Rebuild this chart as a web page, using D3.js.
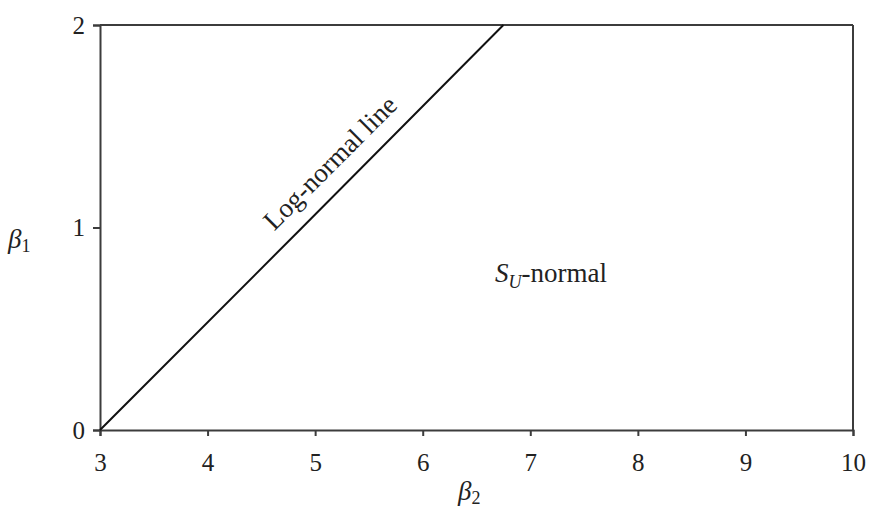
<!DOCTYPE html>
<html>
<head>
<meta charset="utf-8">
<script src="https://cdn.jsdelivr.net/npm/d3@7"></script>
<style>
  html, body { margin: 0; padding: 0; background: #fff; }
  svg text { font-family: "Liberation Serif", "Times New Roman", serif; fill: #222; }
</style>
</head>
<body>
<svg id="chart" width="870" height="508"></svg>
<script>
// Pearson plane: beta2 (kurtosis) on x, beta1 (squared skewness) on y
const beta2Ticks = [3, 4, 5, 6, 7, 8, 9, 10];
const beta1Ticks = [0, 1, 2];

// Log-normal line points (beta2, beta1)
const lognormBeta2 = [3, 4.88, 6.75];
const lognormBeta1 = [0, 1, 2];

const svg = d3.select("#chart");
const margin = { left: 100, right: 17, top: 25, bottom: 78 };
const W = 870, H = 508;

const x = d3.scaleLinear().domain([3, 10]).range([margin.left, W - margin.right]);
const y = d3.scaleLinear().domain([0, 2]).range([H - margin.bottom, margin.top]);

const axisColor = "#3c3c3c";
const tickFont = "25px";
const labelFont = "27px";

// bottom axis
const gx = svg.append("g")
  .attr("transform", `translate(0,${y(0)})`)
  .call(d3.axisBottom(x).tickValues(beta2Ticks).tickSize(6).tickPadding(17).tickFormat(d3.format("d")));
gx.selectAll("text").style("font-size", tickFont);

// left axis
const gy = svg.append("g")
  .attr("transform", `translate(${x(3)},0)`)
  .call(d3.axisLeft(y).tickValues(beta1Ticks).tickSize(7).tickPadding(8).tickFormat(d3.format("d")));
gy.selectAll("text").style("font-size", tickFont);

svg.selectAll(".domain, .tick line").attr("stroke", axisColor).attr("stroke-width", 2);

// top and right frame edges
svg.append("line")
  .attr("x1", x(3)).attr("x2", x(10)).attr("y1", y(2)).attr("y2", y(2))
  .attr("stroke", axisColor).attr("stroke-width", 2);
svg.append("line")
  .attr("x1", x(10)).attr("x2", x(10)).attr("y1", y(0)).attr("y2", y(2))
  .attr("stroke", axisColor).attr("stroke-width", 2);

// log-normal line
const pts = lognormBeta2.map((b2, i) => [b2, lognormBeta1[i]]);
svg.append("path")
  .datum(pts)
  .attr("fill", "none")
  .attr("stroke", "#111")
  .attr("stroke-width", 2)
  .attr("d", d3.line().x(d => x(d[0])).y(d => y(d[1])));

// label along the line
const ang = Math.atan2(y(2) - y(0), x(6.75) - x(3)) * 180 / Math.PI;
svg.append("text")
  .attr("transform", `translate(${x(4.62)},${y(0.98)}) rotate(${ang})`)
  .style("font-size", labelFont)
  .text("Log-normal line");

// region label
const su = svg.append("text")
  .attr("x", 495).attr("y", 282)
  .style("font-size", labelFont);
su.append("tspan").style("font-style", "italic").text("S");
su.append("tspan").style("font-style", "italic").style("font-size", "18px").attr("dy", 6).text("U");
su.append("tspan").attr("dy", -6).text("-normal");

// axis titles
const xt = svg.append("text")
  .attr("x", 458).attr("y", 500)
  .style("font-size", labelFont);
xt.append("tspan").style("font-style", "italic").text("β");
xt.append("tspan").style("font-size", "18px").attr("dy", 4).text("2");

const yt = svg.append("text")
  .attr("x", 8).attr("y", 248)
  .style("font-size", labelFont);
yt.append("tspan").style("font-style", "italic").text("β");
yt.append("tspan").style("font-size", "18px").attr("dy", 4).text("1");
</script>
</body>
</html>
